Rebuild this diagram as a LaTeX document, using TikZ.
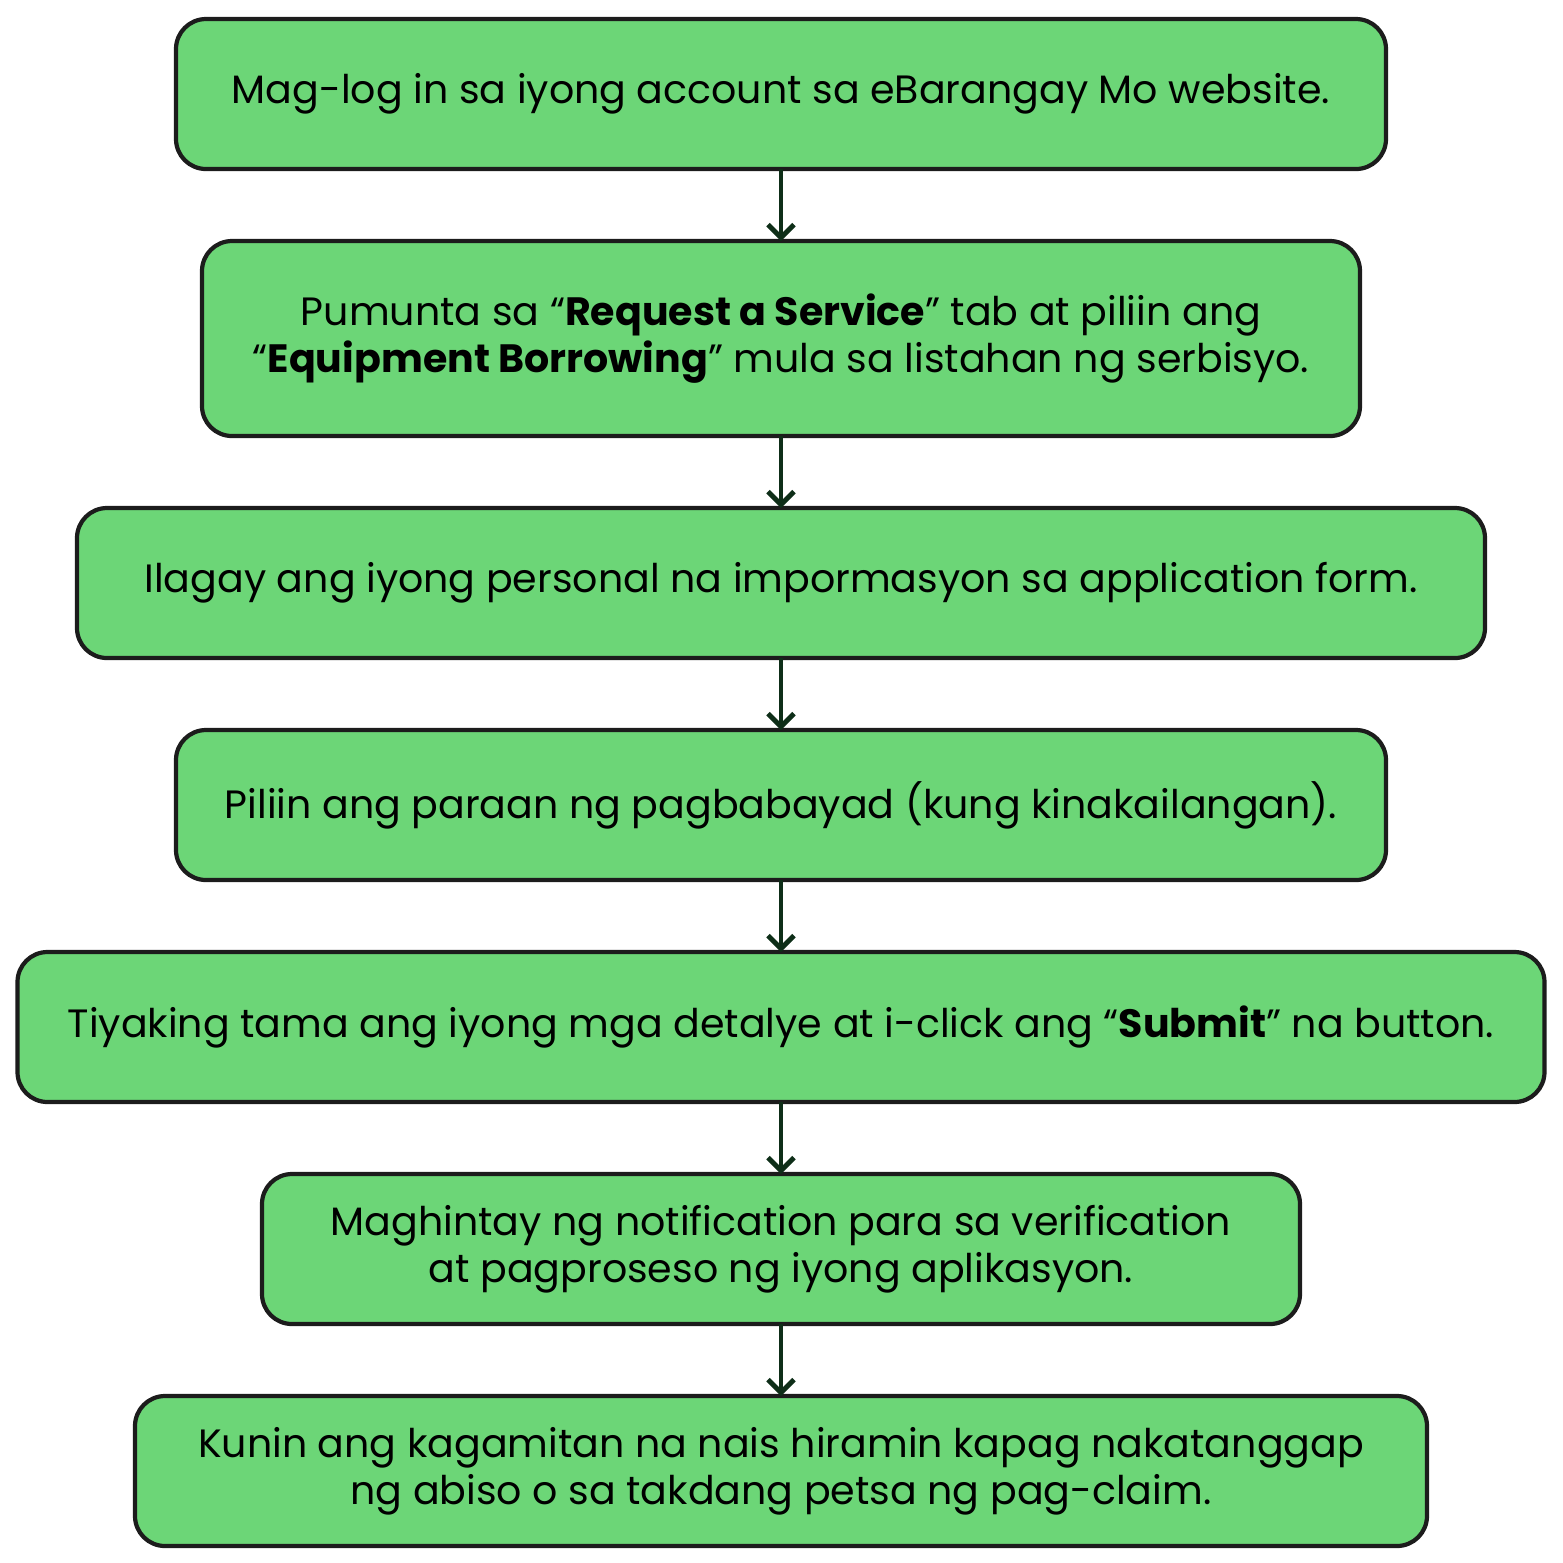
\documentclass[tikz,border=0pt]{standalone}
\usepackage{fontspec}
\setmainfont{Poppins}
\usepackage{xcolor}
\usetikzlibrary{positioning,arrows.meta}
\definecolor{boxgreen}{RGB}{108, 214, 119}
\definecolor{boxline}{RGB}{28, 28, 28}
\definecolor{darkgreen}{RGB}{14, 46, 24}

\begin{document}
\begin{tikzpicture}[
    box/.style={rectangle, rounded corners=0.3cm, draw=boxline, line width=1.2pt, fill=boxgreen, align=center, outer sep=0pt, minimum height=1.5cm, font=\fontsize{11.25}{13.4}\selectfont},
    arrow/.style={-{Straight Barb[length=1.3mm,width=2.6mm]}, darkgreen, line width=1.4pt},
    node distance=0.72cm
]
\useasboundingbox (0,0) rectangle (15.63,-15.63);

\node[box, minimum width=12.10cm] (login) at (7.81,-0.94) {Mag-log in sa iyong account sa eBarangay Mo website.};
\node[box, minimum width=11.58cm, minimum height=1.95cm, below=of login] (service) {Pumunta sa “\textbf{Request a Service}” tab at piliin ang\\“\textbf{Equipment Borrowing}” mula sa listahan ng serbisyo.};
\node[box, minimum width=14.08cm, below=of service] (info) {Ilagay ang iyong personal na impormasyon sa application form.};
\node[box, minimum width=12.10cm, below=of info] (payment) {Piliin ang paraan ng pagbabayad (kung kinakailangan).};
\node[box, minimum width=15.27cm, below=of payment] (submit) {Tiyaking tama ang iyong mga detalye at i-click ang “\textbf{Submit}” na button.};
\node[box, minimum width=10.38cm, below=of submit] (wait) {Maghintay ng notification para sa verification\\at pagproseso ng iyong aplikasyon.};
\node[box, minimum width=12.92cm, below=of wait] (claim) {Kunin ang kagamitan na nais hiramin kapag nakatanggap\\ng abiso o sa takdang petsa ng pag-claim.};

\draw[arrow] (login) -- (service);
\draw[arrow] (service) -- (info);
\draw[arrow] (info) -- (payment);
\draw[arrow] (payment) -- (submit);
\draw[arrow] (submit) -- (wait);
\draw[arrow] (wait) -- (claim);

\end{tikzpicture}
\end{document}
